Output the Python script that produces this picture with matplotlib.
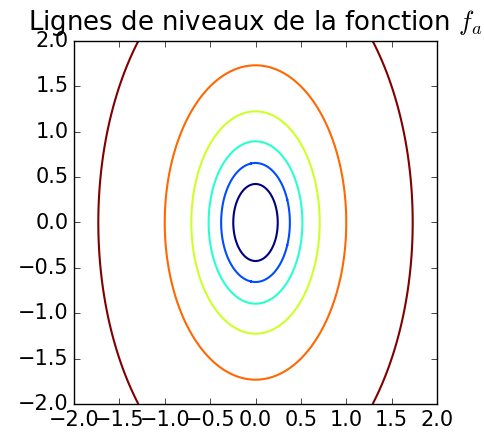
import numpy as np
import matplotlib
matplotlib.use('Agg')
import matplotlib.pyplot as plt

plt.style.use('classic')
plt.rcParams['font.size'] = 15

# parametre de la fonction f_a(x, y) = a*x^2 + y^2
a = 3.0
levels = [0.18, 0.43, 0.8, 1.5, 3.0, 9.0]
colors = [plt.cm.jet(i / (len(levels) - 1)) for i in range(len(levels))]

x = np.linspace(-2, 2, 401)
y = np.linspace(-2, 2, 401)
X, Y = np.meshgrid(x, y)
Z = a * X**2 + Y**2

fig = plt.figure(figsize=(4.84, 4.36), dpi=100)
ax = fig.add_axes([74 / 484, 32 / 436, 363 / 484, 363 / 436])
ax.contour(X, Y, Z, levels=levels, colors=colors, linewidths=1.5)
ax.set_xlim(-2, 2)
ax.set_ylim(-2, 2)
ax.set_xticks(np.arange(-2, 2.01, 0.5))
ax.set_yticks(np.arange(-2, 2.01, 0.5))
ax.set_title('Lignes de niveaux de la fonction $f_a$', fontsize=18.7, pad=8)

plt.savefig('out.png', dpi=100)
